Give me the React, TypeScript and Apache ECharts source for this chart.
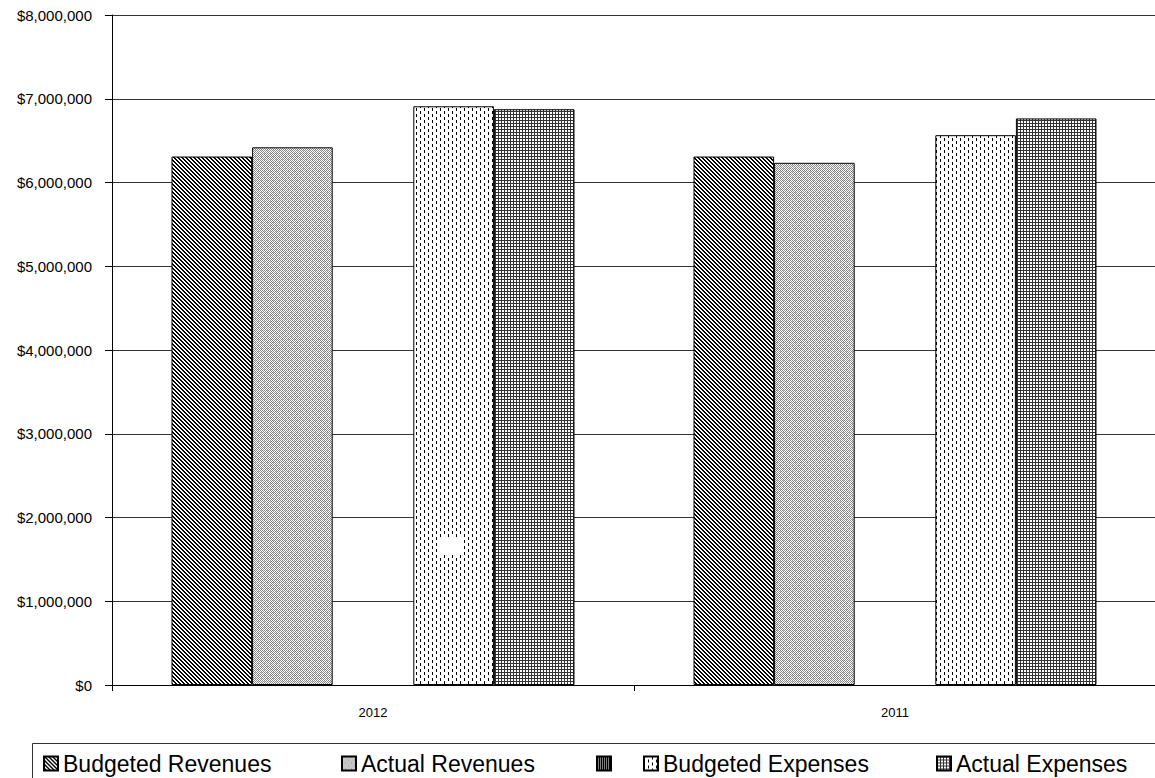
import React, { useEffect, useRef } from 'react';
import * as echarts from 'echarts';

const categories = ['2012', '2011'];
const seriesNames = ['Budgeted Revenues', 'Actual Revenues', '\u00a0', 'Budgeted Expenses', 'Actual Expenses'];
const budgetedRevenues = [6310000, 6310000];
const actualRevenues = [6420000, 6235000];
const blankSeries = [null, null];
const budgetedExpenses = [6910000, 6565000];
const actualExpenses = [6875000, 6765000];
const yMin = 0;
const yMax = 8000000;
const yInterval = 1000000;

type Painter = (set: (x: number, y: number, c: string) => void) => void;

function makePattern(w: number, h: number, paint: Painter) {
  const c = document.createElement('canvas');
  c.width = w;
  c.height = h;
  const ctx = c.getContext('2d')!;
  ctx.fillStyle = '#ffffff';
  ctx.fillRect(0, 0, w, h);
  paint((x, y, col) => {
    ctx.fillStyle = col;
    ctx.fillRect(x, y, 1, 1);
  });
  return { image: c, repeat: 'repeat', imageWidth: w, imageHeight: h };
}

function buildPatterns() {
  const diag = makePattern(4, 4, (set) => {
    for (let y = 0; y < 4; y++)
      for (let x = 0; x < 4; x++)
        if ((((x - y) % 4) + 4) % 4 < 2) set(x, y, '#000000');
  });
  const checker = makePattern(6, 6, (set) => {
    for (let y = 0; y < 6; y++)
      for (let x = 0; x < 6; x++) {
        if ((x + y) % 2 === 0) set(x, y, '#8a8a8a');
        else if ((x === 3 && y === 0) || (x === 0 && y === 3)) set(x, y, '#c8c8c8');
      }
  });
  const dots = makePattern(2, 2, (set) => {
    set(0, 0, '#000000');
    set(1, 0, '#000000');
    set(0, 1, '#000000');
  });
  const dashes = makePattern(8, 6, (set) => {
    for (let y = 0; y < 3; y++) set(0, y, '#000000');
    for (let y = 3; y < 6; y++) set(4, y, '#000000');
  });
  const grid = makePattern(3, 3, (set) => {
    for (let i = 0; i < 3; i++) {
      set(i, 0, '#333333');
      set(0, i, '#333333');
    }
  });
  return [diag, checker, dots, dashes, grid];
}

export default function App() {
  const ref = useRef<HTMLDivElement>(null);

  useEffect(() => {
    if (!ref.current) return;
    const chart = echarts.init(ref.current, null, { renderer: 'svg' });
    const patterns = buildPatterns();
    const seriesData = [budgetedRevenues, actualRevenues, blankSeries, budgetedExpenses, actualExpenses];
    const legendLefts = [43, 341, 596, 643, 936];

    const option: any = {
      animation: false,
      backgroundColor: '#ffffff',
      textStyle: { fontFamily: 'Liberation Sans, Arial, sans-serif' },
      grid: { left: 112, top: 15, width: 1044, height: 670, containLabel: false },
      xAxis: {
        type: 'category',
        data: categories,
        axisLine: { show: true, lineStyle: { color: '#000', width: 1 } },
        axisTick: { show: true, alignWithLabel: false, length: 6, lineStyle: { color: '#000' } },
        axisLabel: { color: '#000', fontSize: 13, margin: 21, fontFamily: 'Liberation Sans' },
        splitLine: { show: false },
      },
      yAxis: {
        type: 'value',
        min: yMin,
        max: yMax,
        interval: yInterval,
        axisLine: { show: true, lineStyle: { color: '#000', width: 1 } },
        axisTick: { show: true, length: 7, lineStyle: { color: '#000' } },
        axisLabel: {
          color: '#000',
          fontSize: 15,
          margin: 20,
          fontFamily: 'Liberation Sans',
          formatter: (v: number) => '$' + v.toLocaleString('en-US'),
        },
        splitLine: { show: true, lineStyle: { color: '#333', width: 1 } },
      },
      legend: seriesNames.map((n, i) => ({
        data: [n],
        left: legendLefts[i],
        top: 752,
        orient: 'horizontal',
        icon: 'rect',
        itemWidth: 14,
        itemHeight: 14,
        itemGap: 0,
        padding: 0,
        selectedMode: false,
        textStyle: { fontFamily: 'Liberation Sans', fontSize: 23, color: '#000' },
      })),
      series: seriesData.map((d, i) => ({
        type: 'bar',
        name: seriesNames[i],
        data: d,
        barGap: '0%',
        barCategoryGap: '22.8%',
        itemStyle: { color: patterns[i], borderColor: '#000', borderWidth: 1 },
        emphasis: { disabled: true },
      })),
      graphic: [
        {
          type: 'rect',
          z: 100,
          shape: { x: 32.5, y: 743.5, width: 1300, height: 100 },
          style: { fill: 'none', stroke: '#333', lineWidth: 1 },
          silent: true,
        },
        {
          type: 'rect',
          z: 100,
          shape: { x: 437, y: 537, width: 25, height: 18 },
          style: { fill: '#ffffff' },
          silent: true,
        },
      ],
    };
    chart.setOption(option);
    return () => chart.dispose();
  }, []);

  return (
    <div style={{ position: 'fixed', left: 0, top: 0, width: 1155, height: 778, overflow: 'hidden', background: '#fff' }}>
      <div ref={ref} style={{ width: 1200, height: 800 }} />
    </div>
  );
}
